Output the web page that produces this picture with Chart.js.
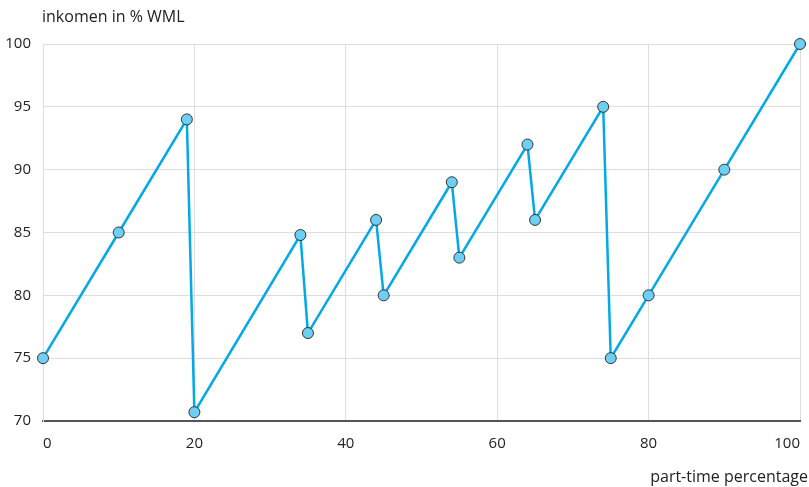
<!DOCTYPE html>
<html>
<head>
  <script src="https://cdn.jsdelivr.net/npm/chart.js@4"></script>
  <style>
    body { margin: 0; background: #fff; }
    #wrap { width: 809px; height: 487px; }
  </style>
</head>
<body>
<div id="wrap"><canvas id="line-chart"></canvas></div>
<script>
  var xValues = [0, 10, 19, 20, 34, 35, 44, 45, 54, 55, 64, 65, 74, 75, 80, 90, 100];
  var yValues = [75, 85, 94, 70.7, 84.8, 77, 86, 80, 89, 83, 92, 86, 95, 75, 80, 90, 100];
  var yTitle = "inkomen in % WML";
  var xTitle = "part-time percentage";

  var points = xValues.map(function (x, i) { return { x: x, y: yValues[i] }; });
  var font = { family: "'Open Sans', sans-serif", size: 15 };

  var titles = {
    id: 'titles',
    afterDraw: function (chart) {
      var ctx = chart.ctx;
      ctx.save();
      ctx.fillStyle = '#222';
      ctx.font = "16px 'Open Sans', sans-serif";
      ctx.textBaseline = 'middle';
      ctx.textAlign = 'left';
      ctx.fillText(yTitle, 42, 17);
      ctx.textAlign = 'right';
      ctx.fillText(xTitle, 808, 477);
      ctx.restore();
    }
  };

  new Chart(document.getElementById("line-chart"), {
    type: 'line',
    data: {
      datasets: [{
        data: points,
        borderColor: '#02a9e7',
        borderWidth: 2.5,
        backgroundColor: '#6ccff3',
        pointBorderColor: '#333',
        pointBorderWidth: 1,
        pointRadius: 5.5,
        fill: false,
        clip: false,
        tension: 0
      }]
    },
    options: {
      responsive: true,
      maintainAspectRatio: false,
      animation: false,
      layout: { padding: { top: 44, right: 9, left: 0, bottom: 0 } },
      plugins: { legend: { display: false }, tooltip: { enabled: false } },
      scales: {
        x: {
          type: 'linear',
          min: 0, max: 100,
          ticks: { stepSize: 20, color: '#222', font: font, padding: 14, align: 'inner' },
          grid: { color: '#dddddd', drawTicks: false },
          border: { color: '#555', width: 2 },
          afterFit: function (s) { s.height = 66; s.paddingLeft = 0; s.paddingRight = 0; }
        },
        y: {
          min: 70, max: 100,
          ticks: { stepSize: 5, color: '#222', font: font, padding: 12 },
          grid: { color: '#dddddd', drawTicks: false },
          border: { color: '#dddddd' },
          afterFit: function (s) { s.width = 43; s.paddingTop = 0; s.paddingBottom = 0; }
        }
      }
    },
    plugins: [titles]
  });
</script>
</body>
</html>
